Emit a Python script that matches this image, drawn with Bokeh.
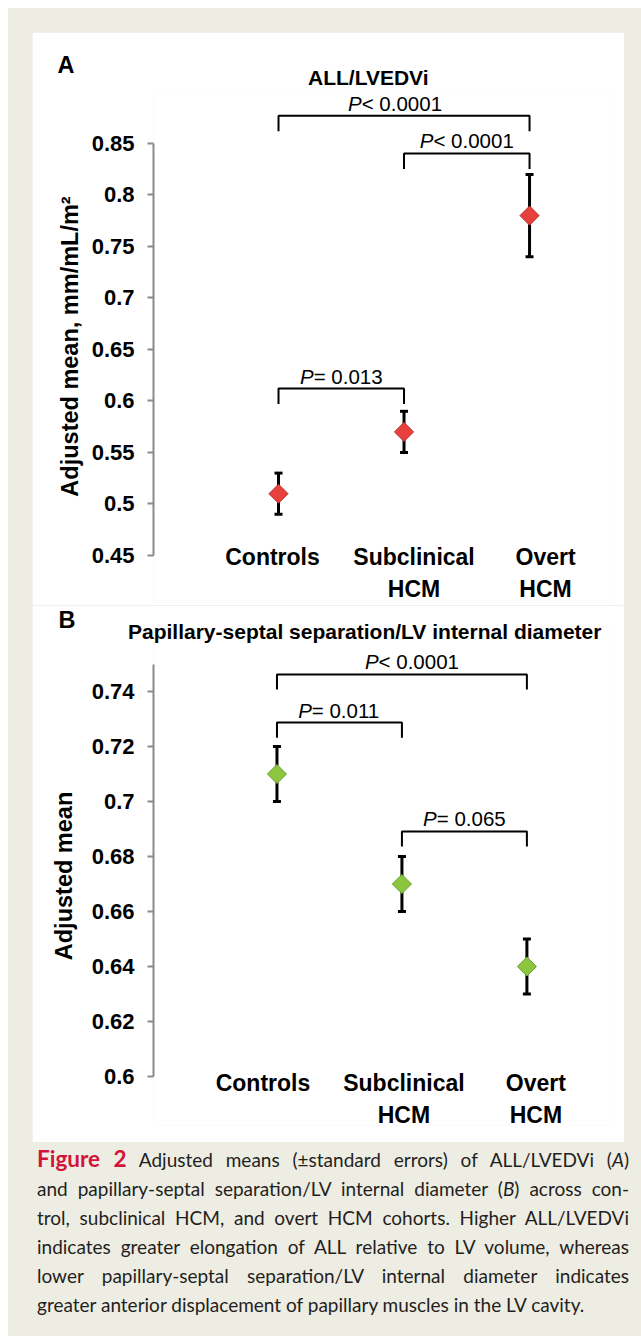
import math
from bokeh.plotting import figure
from bokeh.models import Range1d, FixedTicker, Title, Div, ColumnDataSource
from bokeh.layouts import column
from bokeh.core.properties import value
from bokeh.embed import file_html
from bokeh.resources import INLINE

# ---------------- data ----------------
categories = ["Controls", "Subclinical\nHCM", "Overt\nHCM"]
cat_pos = [1, 2, 3]

a_mean = [0.51, 0.57, 0.78]
a_low = [0.49, 0.55, 0.74]
a_high = [0.53, 0.59, 0.82]
a_yticks = [0.45, 0.5, 0.55, 0.6, 0.65, 0.7, 0.75, 0.8, 0.85]
a_ylabels = ["0.45", "0.5", "0.55", "0.6", "0.65", "0.7", "0.75", "0.8", "0.85"]
a_cmp_left = [1, 2, 1]
a_cmp_right = [3, 3, 2]
a_cmp_sym = ["<", "<", "="]
a_cmp_p = ["0.0001", "0.0001", "0.013"]
a_cmp_level = [0.877, 0.8403, 0.6121]

b_mean = [0.71, 0.67, 0.64]
b_low = [0.70, 0.66, 0.63]
b_high = [0.72, 0.68, 0.65]
b_yticks = [0.6, 0.62, 0.64, 0.66, 0.68, 0.7, 0.72, 0.74]
b_ylabels = ["0.6", "0.62", "0.64", "0.66", "0.68", "0.7", "0.72", "0.74"]
b_cmp_left = [1, 1, 2]
b_cmp_right = [3, 2, 3]
b_cmp_sym = ["<", "=", "="]
b_cmp_p = ["0.0001", "0.011", "0.065"]
b_cmp_level = [0.7462, 0.7287, 0.6891]

# ---------------- style ----------------
BEIGE = "#EEEDE4"
FONT = "Liberation Sans"
AXIS_GRAY = "#8a8a8a"
P_FS = 20.5
ADV = {"<": 0.584, "=": 0.584, " ": 0.278, ".": 0.278}


def text_w(s, fs):
    return sum(ADV.get(c, 0.556) for c in s) * fs


def make_panel(letter, title, means, lows, highs, yticks, ylabels, ybounds,
               xrange, yrange, height, borders, cmp_left, cmp_right, cmp_sym,
               cmp_p, cmp_level, p_shift, drop, fill, edge, lab_dx, lab_dy,
               ylabel, ylab_standoff, title_off, title_standoff, letter_off,
               letter_standoff):
    bl, br, bt, bb = borders
    p = figure(width=592, height=height, x_range=Range1d(*xrange),
               y_range=Range1d(*yrange), output_backend="svg",
               toolbar_location=None, x_axis_location=None,
               title_location=None,
               min_border_left=bl, min_border_right=br,
               min_border_top=bt, min_border_bottom=bb)
    p.grid.visible = False
    p.outline_line_color = None
    p.background_fill_color = "white"
    p.border_fill_color = "white"

    # y axis
    ax = p.yaxis[0]
    ax.bounds = ybounds
    ax.ticker = FixedTicker(ticks=yticks)
    ax.major_label_overrides = {t: l for t, l in zip(yticks, ylabels)}
    ax.axis_line_color = AXIS_GRAY
    ax.axis_line_width = 2
    ax.major_tick_line_color = AXIS_GRAY
    ax.major_tick_line_width = 2
    ax.major_tick_out = 6
    ax.major_tick_in = 0
    ax.minor_tick_line_color = None
    ax.major_label_text_font = FONT
    ax.major_label_text_font_style = "bold"
    ax.major_label_text_font_size = "22px"
    ax.major_label_text_color = "black"
    ax.major_label_standoff = 13
    ax.axis_label = ylabel
    ax.axis_label_text_font = FONT
    ax.axis_label_text_font_style = "bold"
    ax.axis_label_text_font_size = "23.5px"
    ax.axis_label_text_color = "black"
    ax.axis_label_standoff = ylab_standoff

    # titles: main (nearest the frame) then panel letter
    p.add_layout(Title(text=title, align="left", offset=title_off,
                       standoff=title_standoff, text_font=FONT,
                       text_font_style="bold", text_font_size="21px",
                       text_color="black"), "above")
    p.add_layout(Title(text=letter, align="left", offset=letter_off,
                       standoff=letter_standoff, text_font=FONT,
                       text_font_style="bold", text_font_size="23.5px",
                       text_color="black"), "above")

    # error bars
    p.segment(x0=cat_pos, y0=lows, x1=cat_pos, y1=highs,
              line_color="black", line_width=3)
    p.scatter(x=cat_pos + cat_pos, y=lows + highs, marker="dash", size=8,
              line_color="black", line_width=3)
    # diamonds
    p.scatter(x=cat_pos, y=means, marker="square", angle=math.pi / 4,
              size=13.5, fill_color=fill, line_color=edge, line_width=1)

    # comparison brackets
    xs = [[l, l, r, r] for l, r in zip(cmp_left, cmp_right)]
    ys = [[y - drop, y, y, y - drop] for y in cmp_level]
    p.multi_line(xs=xs, ys=ys, line_color="black", line_width=2)

    mid = [(l + r) / 2 for l, r in zip(cmp_left, cmp_right)]
    rest = [f"{s} {v}" for s, v in zip(cmp_sym, cmp_p)]
    wp = 0.667 * P_FS
    split = [(wp - text_w(r, P_FS)) / 2 + sh for r, sh in zip(rest, p_shift)]
    src = ColumnDataSource(dict(x=mid, y=cmp_level, rest=rest,
                                P=["P"] * len(mid), dx=split))
    p.text(x="x", y="y", text="P", x_offset="dx", y_offset=-1, source=src,
           text_align="right", text_baseline="bottom",
           text_font=value(FONT), text_font_style="italic",
           text_font_size=f"{P_FS}px", text_color="black")
    p.text(x="x", y="y", text="rest", x_offset="dx", y_offset=-1, source=src,
           text_align="left", text_baseline="bottom",
           text_font=value(FONT), text_font_style="normal",
           text_font_size=f"{P_FS}px", text_color="black")

    # category labels
    p.text(x=cat_pos, y=[ybounds[0]] * len(cat_pos), text=categories,
           x_offset=lab_dx, y_offset=lab_dy, text_align="center",
           text_baseline="top", text_font=value(FONT),
           text_font_style="bold", text_font_size="23px",
           text_line_height=1.22, text_color="black")
    return p


pA = make_panel("A", "ALL/LVEDVi", a_mean, a_low, a_high, a_yticks, a_ylabels,
                (0.45, 0.85), (0.004, 3.645), (0.40631, 0.89951), 573,
                (121, 14, 60, 5), a_cmp_left, a_cmp_right, a_cmp_sym, a_cmp_p,
                a_cmp_level, [-9, 0, 0], 0.015, "#E8413D", "#B92B2B",
                [-6, 10, 16], -11, "Adjusted mean, mm/mL/m\u00b2", 6,
                154.5, 7, -96, -34)

pB = make_panel("B", "Papillary-septal separation/LV internal diameter",
                b_mean, b_low, b_high, b_yticks, b_ylabels, (0.6, 0.75),
                (0.012, 3.669), (0.58218, 0.76364), 537, (119, 14, 21, 17),
                b_cmp_left, b_cmp_right, b_cmp_sym, b_cmp_p, b_cmp_level,
                [10, 0, 0], 0.0055, "#8CC63F", "#6A9F35", [-14, 2, 9], -6,
                "Adjusted mean", 12, -25.5, -33, -95, -13)

line_style = "text-align: justify; text-align-last: justify;"
cap_html = (
    '<div style="font-family: Lato; font-size: 19px; line-height: 29px; '
    'color: #231F20; width: 592px; position: relative; top: -3px;">'
    f'<div style="{line_style}"><span style="color:#D2143A; font-weight:bold; '
    'font-size: 22.5px;">Figure 2</span> Adjusted means (\u00b1standard errors) '
    'of ALL/LVEDVi (<i>A</i>)</div>'
    f'<div style="{line_style}">and papillary-septal separation/LV internal '
    'diameter (<i>B</i>) across con-</div>'
    f'<div style="{line_style}">trol, subclinical HCM, and overt HCM cohorts. '
    'Higher ALL/LVEDVi</div>'
    f'<div style="{line_style}">indicates greater elongation of ALL relative '
    'to LV volume, whereas</div>'
    f'<div style="{line_style}">lower papillary-septal separation/LV internal '
    'diameter indicates</div>'
    '<div>greater anterior displacement of papillary muscles in the LV '
    'cavity.</div>'
    '</div>'
)
cap = Div(text=cap_html, width=592, height=186)

layout = column(pA, pB, cap, margin=(8, 8, 8, 8),
                styles={"background-color": BEIGE,
                        "padding": "24px 9px 0px 24px"})

open("out.html", "w").write(file_html(layout, INLINE))
